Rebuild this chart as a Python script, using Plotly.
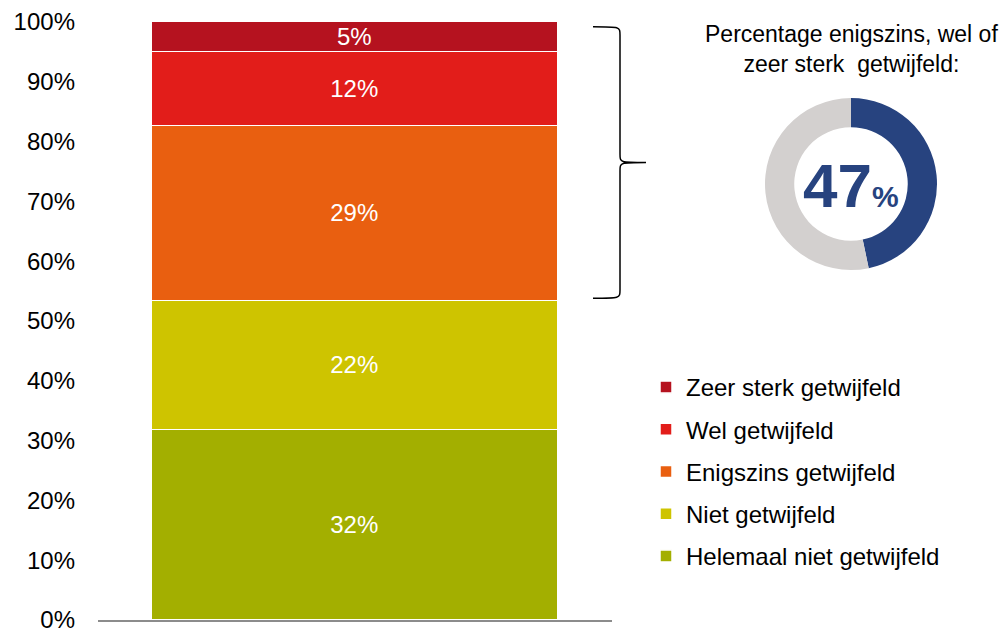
import plotly.graph_objects as go

categories = ["Helemaal niet getwijfeld", "Niet getwijfeld", "Enigszins getwijfeld",
              "Wel getwijfeld", "Zeer sterk getwijfeld"]
values = [31.8, 21.5, 29.3, 12.4, 5.0]
labels = ["32%", "22%", "29%", "12%", "5%"]
colors = ["#A3AF00", "#CEC400", "#E95F10", "#E21D1A", "#B5121F"]
tick_vals = [0, 10, 20, 30, 40, 50, 60, 70, 80, 90, 100]
tick_text = ["0%", "10%", "20%", "30%", "40%", "50%", "60%", "70%", "80%", "90%", "100%"]
doubt_groups = ["Enigszins getwijfeld", "Wel getwijfeld", "Zeer sterk getwijfeld"]
donut_title = "Percentage enigszins, wel of<br>zeer sterk  getwijfeld:"

W, H = 1008, 629
FONT = "Arial, Liberation Sans, sans-serif"

fig = go.Figure()
n = len(categories)
for i, (cat, v, lab, col) in enumerate(zip(categories, values, labels, colors)):
    fig.add_trace(go.Bar(
        x=[""], y=[v], name=cat, text=[lab], textposition="inside",
        insidetextanchor="middle", textangle=0, constraintext="none",
        textfont=dict(color="white", size=24, family=FONT),
        marker=dict(color=col, line=dict(color="white", width=1.5)),
        width=0.79, legendgroup=cat, legendrank=n - i, hoverinfo="skip",
    ))

doubt_share = sum(v for c, v in zip(categories, values) if c in doubt_groups)
fig.add_trace(go.Pie(
    values=[doubt_share, 100 - doubt_share], marker=dict(colors=["#27437F", "#D3D0CF"]),
    hole=0.66, sort=False, direction="clockwise", rotation=0, textinfo="none",
    showlegend=False, hoverinfo="skip",
    domain=dict(x=[(851 - 86) / W, (851 + 86) / W], y=[1 - (184 + 86) / H, 1 - (184 - 86) / H]),
))

# bracket spanning doubt categories
bottom_doubt = sum(v for c, v in zip(categories, values) if c not in doubt_groups)
top_doubt = bottom_doubt + doubt_share
y0 = bottom_doubt + 0.5
y1 = top_doubt - 0.8
ym = (y0 + y1) / 2
c = 1.4
xa, xb, xt = 593 / W, 620 / W, 646 / W
path = (f"M{xa},{y1} C{xb},{y1} {xb},{y1} {xb},{y1 - c} "
        f"L{xb},{ym + c} C{xb},{ym} {xb},{ym} {xt},{ym} "
        f"C{xb},{ym} {xb},{ym} {xb},{ym - c} "
        f"L{xb},{y0 + c} C{xb},{y0} {xb},{y0} {xa},{y0}")
fig.add_shape(type="path", path=path, xref="paper", yref="y",
              line=dict(color="black", width=1.5))

fig.add_annotation(x=851 / W, y=1 - 49 / H, xref="paper", yref="paper",
                   xanchor="center", yanchor="middle",
                   text=donut_title, showarrow=False, align="center",
                   font=dict(size=23, color="black", family=FONT))
fig.add_annotation(x=851 / W, y=1 - 184 / H, xref="paper", yref="paper",
                   xanchor="center", yanchor="middle",
                   text=f"<b>{round(doubt_share)}</b><b><span style='font-size:30px'>%</span></b>",
                   showarrow=False, font=dict(size=62, color="#27437F", family=FONT),
                   yshift=-2)

fig.update_layout(
    width=W, height=H, barmode="stack", bargap=0,
    margin=dict(l=0, r=0, t=0, b=0, autoexpand=False),
    paper_bgcolor="white", plot_bgcolor="white",
    font=dict(family=FONT, color="black", size=24),
    xaxis=dict(domain=[98 / W, 612 / W], range=[-0.5, 0.5], showline=True, automargin=False,
               linecolor="#8C8C8C", linewidth=2, showticklabels=False, showgrid=False,
               zeroline=False, fixedrange=True),
    yaxis=dict(domain=[(H - 620) / H, (H - 22) / H], range=[0, 100], tickmode="array",
               tickvals=tick_vals, ticktext=tick_text, automargin=False,
               ticklabeloverflow="allow",
               showgrid=False, zeroline=False, showline=False,
               ticklabelstandoff=22, tickfont=dict(size=24, family=FONT, color="black"),
               fixedrange=True),
    legend=dict(x=646 / W, y=1 - 365 / H, xanchor="left", yanchor="top",
                traceorder="grouped", tracegroupgap=8,
                font=dict(size=24, family=FONT, color="black"),
                bgcolor="rgba(0,0,0,0)", itemclick=False, itemdoubleclick=False),
    showlegend=True,
)

fig.write_html("out.html", config={"displayModeBar": False},
               post_script="document.body.style.margin='0';")
